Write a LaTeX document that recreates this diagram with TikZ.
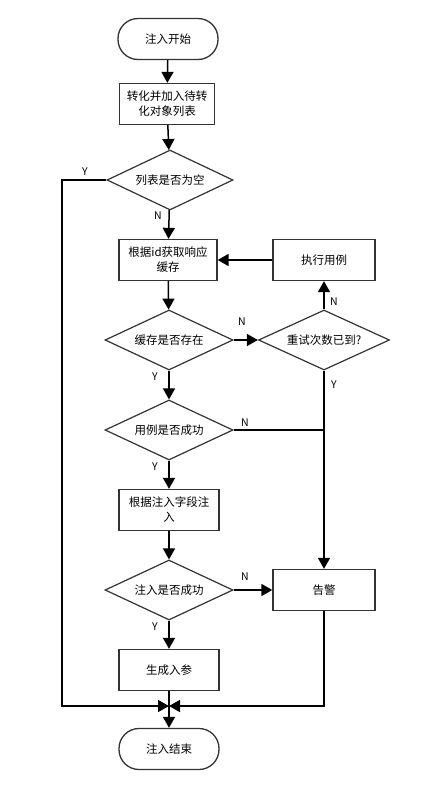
\documentclass[tikz,border=0pt]{standalone}
\usepackage{fontspec}
\newfontfamily\cjk{Noto Sans CJK SC}
\usetikzlibrary{shapes.geometric,arrows.meta}
\tikzset{
	box/.style={draw=black!80, line width=1.3pt, minimum width=100pt, minimum height=41pt, align=center, font=\cjk\fontsize{11.5}{15}\selectfont},
	term/.style={box, rounded corners=20pt},
	ask/.style={diamond, draw=black!80, line width=1.2pt, aspect=2.13, minimum width=128pt, minimum height=60pt, inner sep=0pt, font=\cjk\fontsize{11.5}{15}\selectfont},
	flow/.style={line width=1.5pt, -{Triangle[length=11pt,width=12pt]}},
	wire/.style={line width=1.5pt},
	yn/.style={font=\cjk\fontsize{10.5}{12}\selectfont}
}

\begin{document}
\begin{tikzpicture}[x=1pt, y=-1pt]
			%%%%% START %%%%%
			\useasboundingbox[fill=white] (0, 0) rectangle (427, 790);
			
			\node[term] (start) at (168, 39) {注入开始};
			\node[box, minimum width=95pt] (conv) at (167, 104) {转化并加入待转\\化对象列表};
			\node[ask, minimum width=126pt] (empty) at (170, 180) {列表是否为空};
			
			\node[box, minimum width=98pt] (fetch) at (168, 260) {根据id获取响应\\缓存};
			\node[box, minimum width=102pt] (exec) at (324, 260) {执行用例};
			
			\node[ask] (cached) at (169, 340) {缓存是否存在};
			\node[ask, minimum width=131pt] (retry) at (324, 340) {重试次数已到?};
			
			\node[ask] (casesucc) at (169, 430) {用例是否成功};
			\node[box] (inject) at (169, 510) {根据注入字段注\\入};
			\node[ask] (injsucc) at (169, 590) {注入是否成功};
			\node[box, minimum width=102pt] (alarm) at (324, 590) {告警};
			\node[box] (gen) at (169, 670) {生成入参};
			\node[term] (finish) at (169, 749) {注入结束};
			
			\coordinate (lefttop) at (62, 180);
			\coordinate (leftbot) at (62, 706);
			\coordinate (merge) at (169, 706);
			\coordinate (joint) at (324, 430);
			
			% main column
			\draw[flow] (start) -- (conv);
			\draw[flow] (conv) -- (empty);
			\draw[flow] (empty) -- (fetch);
			\draw[flow] (fetch) -- (cached);
			\draw[flow] (cached) -- (casesucc);
			\draw[flow] (casesucc) -- (inject);
			\draw[flow] (inject) -- (injsucc);
			\draw[flow] (injsucc) -- (gen);
			\draw[flow] (gen) -- (finish);
			
			% retry loop
			\draw[flow] (cached) -- (retry);
			\draw[flow] (retry) -- (exec);
			\draw[flow] (exec) -- (fetch);
			
			% failures
			\draw[flow] (retry.south) -- (alarm.north);
			\draw[wire] (casesucc.east) -- (joint);
			\draw[flow] (injsucc) -- (alarm);
			
			% back to the end
			\draw[flow] (empty.west) -- (lefttop) -- (leftbot) -- (merge);
			\draw[flow] (alarm.south) -- (alarm.south |- merge) -- (merge);
			
			\node[yn] (y1) at (85, 172) {Y};
			\node[yn] (n1) at (158, 216) {N};
			\node[yn] (n2) at (242, 322) {N};
			\node[yn] (n3) at (334, 302) {N};
			\node[yn] (y2) at (334, 385) {Y};
			\node[yn] (y3) at (155, 377) {Y};
			\node[yn] (n4) at (245, 423) {N};
			\node[yn] (y4) at (155, 467) {Y};
			\node[yn] (n5) at (245, 577) {N};
			\node[yn] (y5) at (155, 627) {Y};
			%%%%% END %%%%%
\end{tikzpicture}
\end{document}
